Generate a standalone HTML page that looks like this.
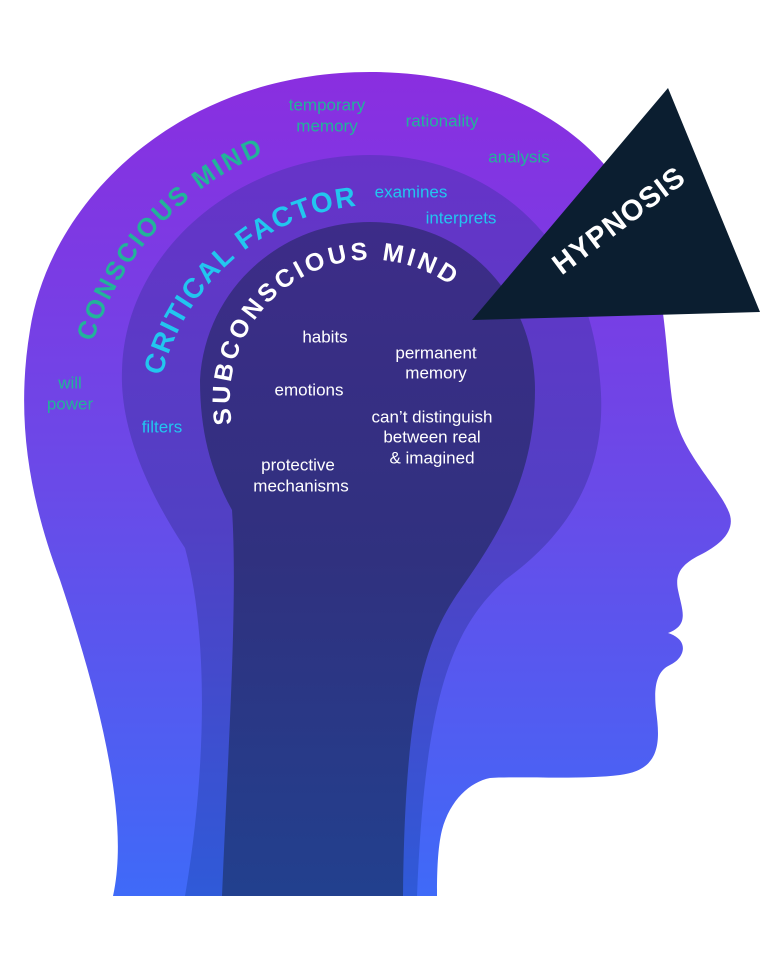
<!DOCTYPE html>
<html><head><meta charset="utf-8"><style>
html,body{margin:0;padding:0;background:#fff}
svg{display:block}
text{font-family:"Liberation Sans",sans-serif}
.l{font-size:17px;text-anchor:middle;dominant-baseline:middle}
.t{fill:#22b39a}.c{fill:#22c6ef}.w{fill:#fff}
.arc{font-weight:bold}
</style></head><body>
<svg width="768" height="960" viewBox="0 0 768 960">
<defs>
<linearGradient id="g1" x1="0" y1="0" x2="0" y2="1">
<stop offset="0" stop-color="#8a2ee0"/><stop offset="0.5" stop-color="#6a4ae8"/><stop offset="1" stop-color="#3f6af8"/></linearGradient>
<linearGradient id="g2" x1="0" y1="0" x2="0" y2="1">
<stop offset="0" stop-color="#6733c8"/><stop offset="0.5" stop-color="#5140c4"/><stop offset="1" stop-color="#2f5ad8"/></linearGradient>
<linearGradient id="g3" x1="0" y1="0" x2="0" y2="1">
<stop offset="0" stop-color="#3d2c88"/><stop offset="0.5" stop-color="#30317f"/><stop offset="1" stop-color="#22408e"/></linearGradient>
<path id="pc" d="M93,342 A300,300 0 0 1 263,154"/>
<path id="pf" d="M162,376 A225,225 0 0 1 356,206"/>
<path id="ps" d="M232,424 A140,140 0 0 1 450,285"/>
</defs>
<path fill="url(#g1)" d="M113,896 C130,820 100,700 60,580 C30,500 15,420 30,330 C50,200 180,72 370,72 C500,72 600,130 640,220 C670,290 665,380 676,420 C685,455 720,490 728,510 C738,530 720,545 700,555 C680,565 675,575 678,590 C682,610 690,625 668,633 C690,640 685,658 670,665 C655,672 654,690 656,710 C660,740 662,770 620,775 C580,780 520,776 490,778 C470,782 450,800 442,830 C437,850 437,880 437,896 Z"/>
<path fill="url(#g2)" d="M185,896 C205,780 210,640 185,548 C140,480 120,420 122,370 C125,250 240,155 370,155 C490,155 590,240 600,380 C610,480 560,540 505,580 C450,630 425,700 417,896 Z"/>
<path fill="url(#g3)" d="M222,896 C228,750 238,600 232,510 C210,470 200,430 200,380 C205,290 280,222 370,222 C470,222 535,300 535,390 C535,480 495,540 460,590 C425,640 405,700 403,896 Z"/>
<polygon points="668,88 760,312 472,320" fill="#0b1e30"/>
<text x="620" y="222" fill="#fff" font-weight="bold" font-size="29" text-anchor="middle" dominant-baseline="middle" transform="rotate(-37 620 222)" letter-spacing="1">HYPNOSIS</text>
<text class="arc t" font-size="26"><textPath href="#pc" textLength="262">CONSCIOUS MIND</textPath></text>
<text class="arc c" font-size="28"><textPath href="#pf" textLength="275">CRITICAL FACTOR</textPath></text>
<text class="arc w" font-size="25"><textPath href="#ps" textLength="330">SUBCONSCIOUS MIND</textPath></text>
<text class="l t" x="327" y="106">temporary</text>
<text class="l t" x="327" y="127">memory</text>
<text class="l t" x="442" y="122">rationality</text>
<text class="l t" x="519" y="158">analysis</text>
<text class="l t" x="70" y="384">will</text>
<text class="l t" x="70" y="405">power</text>
<text class="l c" x="411" y="193">examines</text>
<text class="l c" x="461" y="219">interprets</text>
<text class="l c" x="162" y="428">filters</text>
<text class="l w" x="325" y="338">habits</text>
<text class="l w" x="436" y="354">permanent</text>
<text class="l w" x="436" y="374">memory</text>
<text class="l w" x="309" y="391">emotions</text>
<text class="l w" x="432" y="418">can’t distinguish</text>
<text class="l w" x="432" y="438">between real</text>
<text class="l w" x="432" y="459">&amp; imagined</text>
<text class="l w" x="298" y="466">protective</text>
<text class="l w" x="301" y="487">mechanisms</text>
</svg>
</body></html>
